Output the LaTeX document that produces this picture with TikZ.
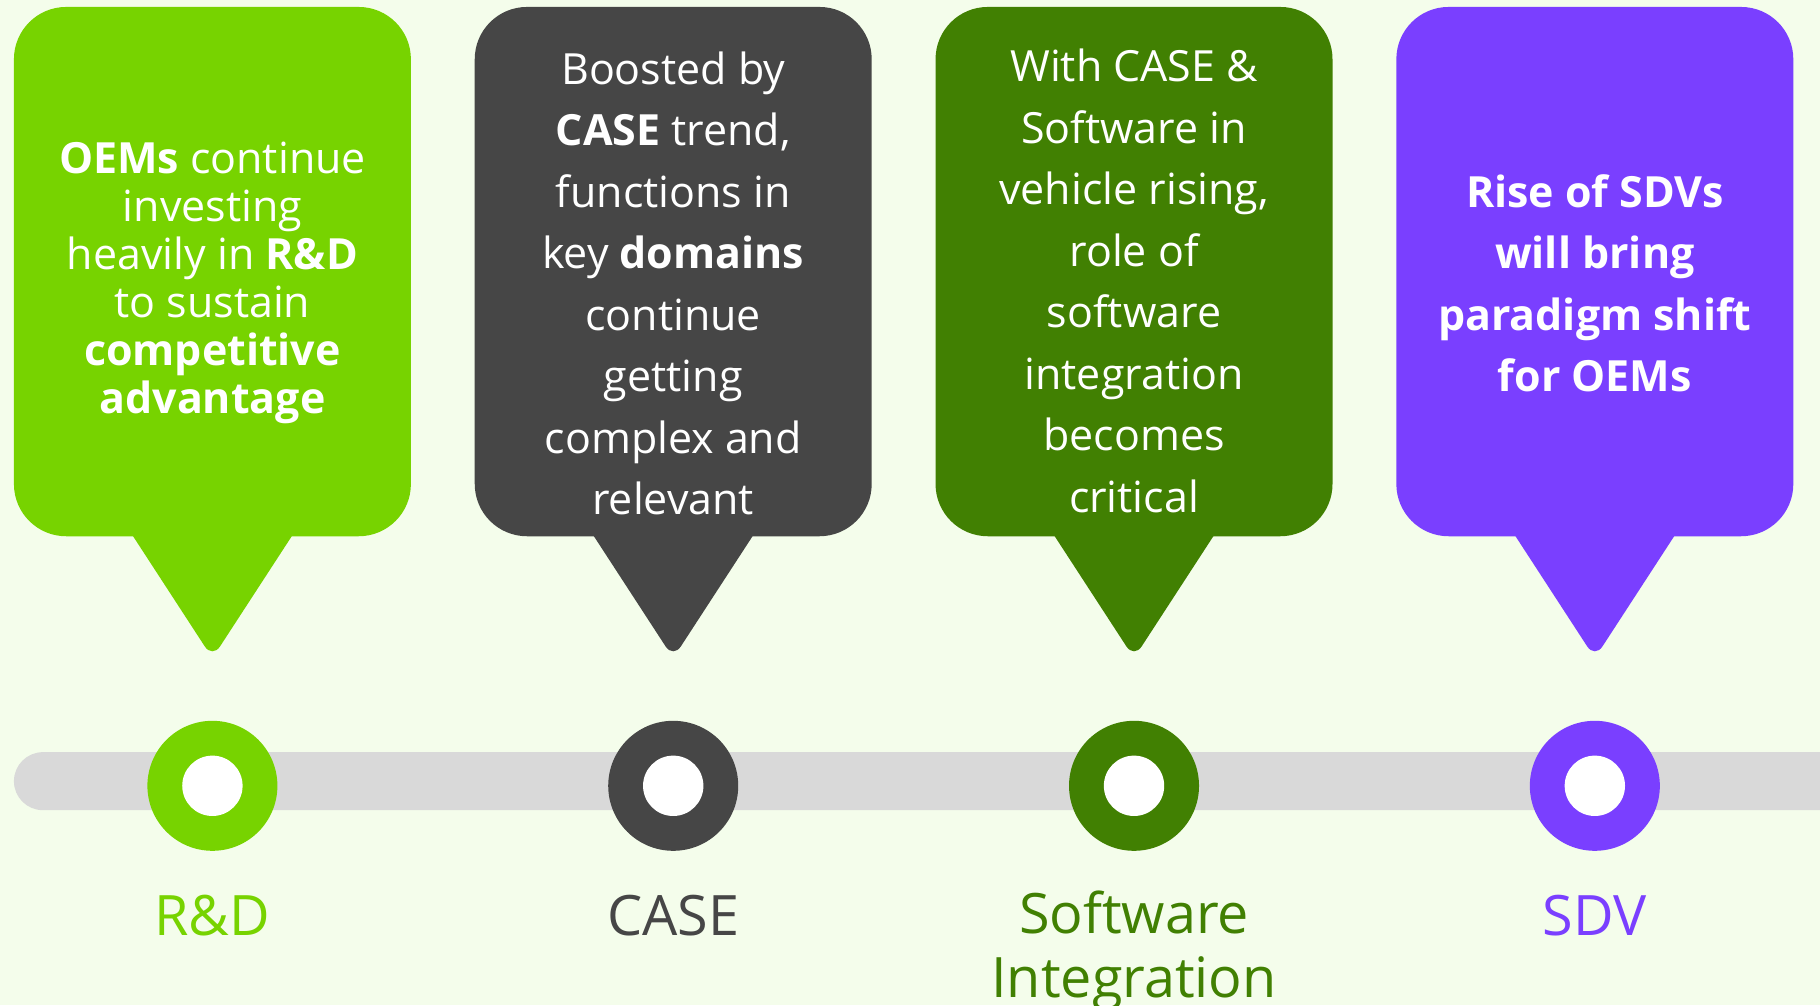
\documentclass[tikz,border=0pt]{standalone}
\usepackage{fontspec}
\setmainfont{Open Sans}
\definecolor{bg}{HTML}{F4FDEB}
\definecolor{cA}{HTML}{77D300}
\definecolor{cB}{HTML}{464646}
\definecolor{cC}{HTML}{418002}
\definecolor{cD}{HTML}{7A3FFF}
\definecolor{barc}{HTML}{D9D9D9}
\begin{document}
\begin{tikzpicture}[x=1pt,y=-1pt,
  txt/.style={text=white, align=center, inner sep=0pt, font=\fontsize{37}{53}\selectfont},
  txtA/.style={txt, font=\fontsize{37}{41.4}\selectfont},
  lbl/.style={align=center, inner sep=0pt, anchor=base, font=\fontsize{48}{55}\selectfont},
  outer/.style={circle, minimum size=112pt, inner sep=0pt},
  inner/.style={circle, fill=white, minimum size=52pt, inner sep=0pt}]
\fill[bg] (0,0) rectangle (1568,866);
\useasboundingbox (0,0) rectangle (1568,866);
% timeline bar
\fill[barc, rounded corners=25pt] (12,648) rectangle (1620,698);
% bubbles
\foreach \c/\col in {183/cA,580/cB,977/cC,1374/cD}{
  \fill[\col, rounded corners=45pt] (\c-171,6) rectangle (\c+171,462);
  \fill[\col, rounded corners=12pt] (\c-82,441) -- (\c+82,441) -- (\c,567) -- cycle;
}
% bubble texts
\node[txtA] (t1) at (183,244) {\textbf{OEMs} continue\\investing\\heavily in \textbf{R\&D}\\to sustain\\\textbf{competitive}\\\textbf{advantage}};
\node[txt] (t2) at (580,244) {Boosted by\\\textbf{CASE} trend,\\functions in\\key \textbf{domains}\\continue\\getting\\complex and\\relevant};
\node[txt] (t3) at (977,242) {With CASE \&\\Software in\\vehicle rising,\\role of\\software\\integration\\becomes\\critical};
\node[txt, font=\bfseries\fontsize{37}{53}\selectfont] (t4) at (1374,244) {Rise of SDVs\\will bring\\paradigm shift\\for OEMs};
% timeline markers
\node[outer, fill=cA] (m1) at (183,677) {};
\node[outer, fill=cB] (m2) at (580,677) {};
\node[outer, fill=cC] (m3) at (977,677) {};
\node[outer, fill=cD] (m4) at (1374,677) {};
\node[inner] (w1) at (m1) {};
\node[inner] (w2) at (m2) {};
\node[inner] (w3) at (m3) {};
\node[inner] (w4) at (m4) {};
% labels
\node[lbl, text=cA] (l1) at (183,806) {R\&D};
\node[lbl, text=cB] (l2) at (580,806) {CASE};
\node[lbl, text=cC] (l3) at (977,859) {Software\\Integration};
\node[lbl, text=cD] (l4) at (1374,806) {SDV};
\end{tikzpicture}
\end{document}
